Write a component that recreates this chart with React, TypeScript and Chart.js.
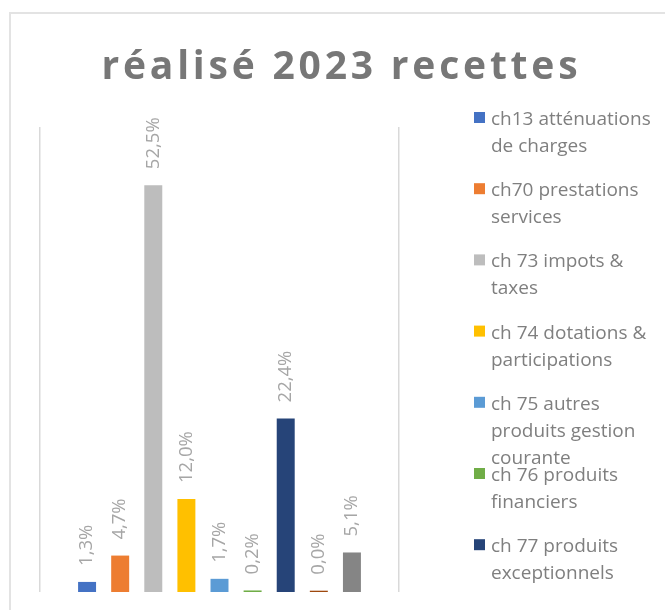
import React, { useEffect, useRef } from "react";
import { Chart, registerables } from "chart.js";

Chart.register(...registerables);

const TITLE = "réalisé 2023 recettes";
const CATEGORIES = [""];
const SERIES_NAMES = [
  "ch13 atténuations de charges",
  "ch70 prestations services",
  "ch 73 impots & taxes",
  "ch 74 dotations & participations",
  "ch 75 autres produits gestion courante",
  "ch 76 produits financiers",
  "ch 77 produits exceptionnels",
  "ch 78 reprises sur provisions",
  "ch 002 résultat reporté",
];
const SERIES_VALUES = [1.3, 4.7, 52.5, 12.0, 1.7, 0.2, 22.4, 0.04, 5.1];
const SERIES_COLORS = [
  "#4472c4",
  "#ed7d31",
  "#bdbdbd",
  "#ffc000",
  "#5b9bd5",
  "#70ad47",
  "#264478",
  "#9e480e",
  "#858585",
];
const Y_MIN = 0;
const Y_MAX = 60;

const FONT = "'Open Sans', 'DejaVu Sans', sans-serif";

const formatPct = (v: number) => v.toFixed(1).replace(".", ",") + "%";

const titlePlugin = {
  id: "customTitle",
  afterDraw(chart: any) {
    const ctx = chart.ctx as CanvasRenderingContext2D;
    ctx.save();
    ctx.font = `bold 39px ${FONT}`;
    ctx.fillStyle = "#777777";
    ctx.textAlign = "left";
    ctx.textBaseline = "alphabetic";
    const spacing = 3.8;
    (ctx as any).letterSpacing = "0px";
    const w = ctx.measureText(TITLE).width + spacing * (TITLE.length - 1);
    (ctx as any).letterSpacing = spacing + "px";
    ctx.fillText(TITLE, 328.5 - w / 2, 65);
    ctx.restore();
  },
};

const dataLabelPlugin = {
  id: "rotatedLabels",
  afterDatasetsDraw(chart: any) {
    const ctx = chart.ctx as CanvasRenderingContext2D;
    chart.data.datasets.forEach((ds: any, i: number) => {
      const meta = chart.getDatasetMeta(i);
      meta.data.forEach((bar: any, j: number) => {
        const v = ds.data[j] as number;
        ctx.save();
        ctx.font = `18.5px ${FONT}`;
        ctx.fillStyle = "#a6a6a6";
        ctx.translate(bar.x, bar.y - 16);
        ctx.rotate(-Math.PI / 2);
        ctx.textAlign = "left";
        ctx.textBaseline = "middle";
        ctx.fillText(formatPct(v), 0, 0);
        ctx.restore();
      });
    });
  },
};

function wrapText(ctx: CanvasRenderingContext2D, text: string, maxW: number) {
  const words = text.split(" ");
  const lines: string[] = [];
  let cur = "";
  for (const w of words) {
    const test = cur ? cur + " " + w : w;
    if (ctx.measureText(test).width > maxW && cur) {
      lines.push(cur);
      cur = w;
    } else {
      cur = test;
    }
  }
  if (cur) lines.push(cur);
  return lines;
}

const legendPlugin = {
  id: "customLegend",
  afterDraw(chart: any) {
    const ctx = chart.ctx as CanvasRenderingContext2D;
    ctx.save();
    ctx.font = `19px ${FONT}`;
    ctx.textAlign = "left";
    ctx.textBaseline = "alphabetic";
    const boxX = 463;
    const textX = 480;
    const top0 = 98;
    const step = 71.2;
    const lineH = 27;
    chart.data.datasets.forEach((ds: any, i: number) => {
      const top = top0 + i * step;
      if (top + 11 > chart.height) return;
      ctx.fillStyle = ds.backgroundColor;
      ctx.fillRect(boxX, top, 11, 11);
      ctx.fillStyle = "#7f7f7f";
      const lines = wrapText(ctx, ds.label, 170);
      lines.forEach((ln, k) => {
        ctx.fillText(ln, textX, top + 13 + k * lineH);
      });
    });
    ctx.restore();
  },
};

export default function App() {
  const ref = useRef<HTMLCanvasElement | null>(null);

  useEffect(() => {
    if (!ref.current) return;
    const chart = new Chart(ref.current, {
      type: "bar",
      data: {
        labels: CATEGORIES,
        datasets: SERIES_NAMES.map((name, i) => ({
          label: name,
          data: [SERIES_VALUES[i]],
          backgroundColor: SERIES_COLORS[i],
          borderWidth: 0,
          minBarLength: 1.3,
          categoryPercentage: 0.83,
          barPercentage: 0.543,
        })),
      },
      options: {
        responsive: false,
        animation: false,
        layout: { padding: { left: 29, right: 266, top: 113, bottom: 18 } },
        plugins: {
          legend: { display: false },
          title: { display: false },
          tooltip: { enabled: false },
        },
        scales: {
          x: {
            display: true,
            grid: { offset: true, color: "#d9d9d9", lineWidth: 1.5, drawTicks: false },
            border: { display: false },
            ticks: { display: false },
          },
          y: { display: false, min: Y_MIN, max: Y_MAX },
        },
      },
      plugins: [titlePlugin, dataLabelPlugin, legendPlugin],
    } as any);
    return () => chart.destroy();
  }, []);

  return (
    <div
      style={{
        position: "absolute",
        left: 9,
        top: 12,
        width: 654,
        height: 596,
        borderTop: "2px solid #e3e3e3",
        borderLeft: "2px solid #e3e3e3",
        background: "#fff",
      }}
    >
      <canvas ref={ref} width={654} height={596} style={{ display: "block" }} />
    </div>
  );
}
